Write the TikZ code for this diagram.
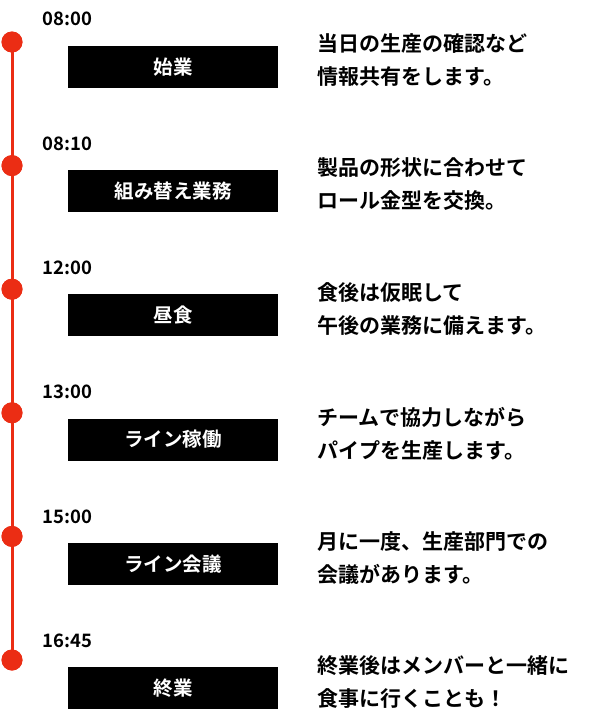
\documentclass[tikz,border=0pt]{standalone}
\usepackage{fontspec}
\newfontfamily\jpfont{Noto Sans CJK JP}[BoldFont={Noto Sans CJK JP Bold}]
\usetikzlibrary{positioning}
\definecolor{linered}{RGB}{235, 45, 20}

\begin{document}
\begin{tikzpicture}[
    x=1pt, y=1pt,
    font=\jpfont\bfseries,
    dot/.style={circle, fill=linered, minimum size=21pt, inner sep=0pt},
    timelabel/.style={anchor=west, font=\jpfont\bfseries\fontsize{18.5}{20}\selectfont},
    taskbox/.style={rectangle, fill=black, text=white, minimum width=210pt, minimum height=42pt, font=\jpfont\bfseries\fontsize{19.5}{20}\selectfont},
    note/.style={anchor=north west, align=left, font=\jpfont\bfseries\fontsize{21}{33}\selectfont}
]
\useasboundingbox (0,0) rectangle (608,-718);

% Timeline entries
\foreach \i/\t/\task/\lineA/\lineB in {
    1/08:00/始業/当日の生産の確認など/情報共有をします。,
    2/08:10/組み替え業務/製品の形状に合わせて/ロール金型を交換。,
    3/12:00/昼食/食後は仮眠して/午後の業務に備えます。,
    4/13:00/ライン稼働/チームで協力しながら/パイプを生産します。,
    5/15:00/ライン会議/月に一度、生産部門での/会議があります。,
    6/16:45/終業/終業後はメンバーと一緒に/食事に行くことも！}{
    \node[dot] (dot\i) at (12,{-42-123.6*(\i-1)}) {};
    \node[timelabel] (time\i) at (39,{-19-124.4*(\i-1)}) {\t};
    \node[taskbox] (task\i) at (173,{-67-124.2*(\i-1)}) {\task};
    \node[note] (note\i) at (314,{-30-124.5*(\i-1)}) {\lineA\\\lineB};
}

% Red line
\draw[linered, line width=3pt] (dot1.center) -- (dot6.center);
\foreach \i in {1,...,6} \node[dot] at (dot\i) {};

\end{tikzpicture}
\end{document}
